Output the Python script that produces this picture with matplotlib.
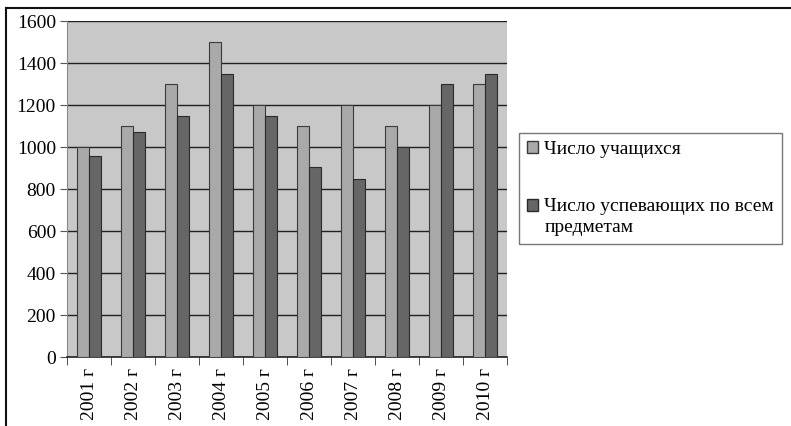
import matplotlib.pyplot as plt
import numpy as np
from matplotlib.lines import Line2D
from matplotlib.patches import Patch, Rectangle
from matplotlib.legend_handler import HandlerPatch

plt.rcParams['font.family'] = ['Liberation Serif', 'DejaVu Serif']

# Data
years = ['2001 г', '2002 г', '2003 г', '2004 г', '2005 г',
         '2006 г', '2007 г', '2008 г', '2009 г', '2010 г']
students = [1000, 1100, 1300, 1500, 1200, 1100, 1200, 1100, 1200, 1300]
passing = [955, 1070, 1150, 1350, 1150, 905, 850, 1000, 1300, 1350]
series_names = ['Число учащихся', 'Число успевающих по всем\nпредметам']

fig = plt.figure(figsize=(7.91, 4.26), dpi=100)
ax = fig.add_axes([67 / 791, 69 / 426, 440 / 791, 336 / 426])

x = np.arange(len(years))
w = 0.27
ax.set_facecolor('#c8c8c8')
ax.bar(x - w / 2 - 0.01, students, width=w, color='#a9a9a9',
       edgecolor='#3a3a3a', linewidth=0.8, zorder=3)
ax.bar(x + w / 2 + 0.01, passing, width=w, color='#666666',
       edgecolor='#2a2a2a', linewidth=0.8, zorder=3)

ax.set_xlim(-0.5, len(years) - 0.5)
ax.set_ylim(0, 1600)
ax.set_yticks(range(0, 1601, 200))
ax.yaxis.grid(True, color='#202020', linewidth=1.0, zorder=1)

# category labels centred, tick marks between categories
ax.set_xticks(x)
ax.set_xticklabels(years, rotation=90, fontsize=14)
ax.tick_params(axis='x', length=0, pad=8)
ax.set_xticks(np.arange(-0.5, len(years)), minor=True)
ax.tick_params(axis='x', which='minor', length=6, direction='out', color='#333333')
ax.tick_params(axis='y', labelsize=14, length=5, pad=3, color='#555555')

for s in ['top', 'right']:
    ax.spines[s].set_visible(False)
ax.spines['left'].set_color('#888888')
ax.spines['bottom'].set_color('#222222')
ax.spines['bottom'].set_linewidth(1.2)

LINESP = 1.37


def top_patch(legend, orig_handle, xdescent, ydescent, width, height, fontsize):
    # put the marker next to the first line of a two-line label
    shift = 0.45 * fontsize * LINESP
    return Rectangle((-xdescent, -ydescent + shift), width, height)


handles = [Patch(facecolor='#a9a9a9', edgecolor='#3a3a3a'),
           Patch(facecolor='#666666', edgecolor='#2a2a2a')]
leg = fig.legend(handles, series_names, loc='upper left',
                 bbox_to_anchor=(519 / 791, 1 - 133 / 426),
                 fontsize=14, frameon=True, fancybox=False,
                 edgecolor='#555555', handlelength=0.6, handleheight=0.6,
                 handletextpad=0.3, labelspacing=2.05, borderpad=0.4,
                 borderaxespad=0,
                 handler_map={handles[1]: HandlerPatch(patch_func=top_patch)})
for t in leg.get_texts():
    t.set_linespacing(LINESP)
leg.get_frame().set_linewidth(1.0)

# outer frame (top and left edges of the cropped chart)
fig.add_artist(Line2D([6 / 791, 1], [1 - 8 / 426, 1 - 8 / 426],
                      transform=fig.transFigure, color='#111111', linewidth=1.5))
fig.add_artist(Line2D([6 / 791, 6 / 791], [0, 1 - 8 / 426],
                      transform=fig.transFigure, color='#111111', linewidth=1.5))

fig.savefig('out.png', dpi=100)
